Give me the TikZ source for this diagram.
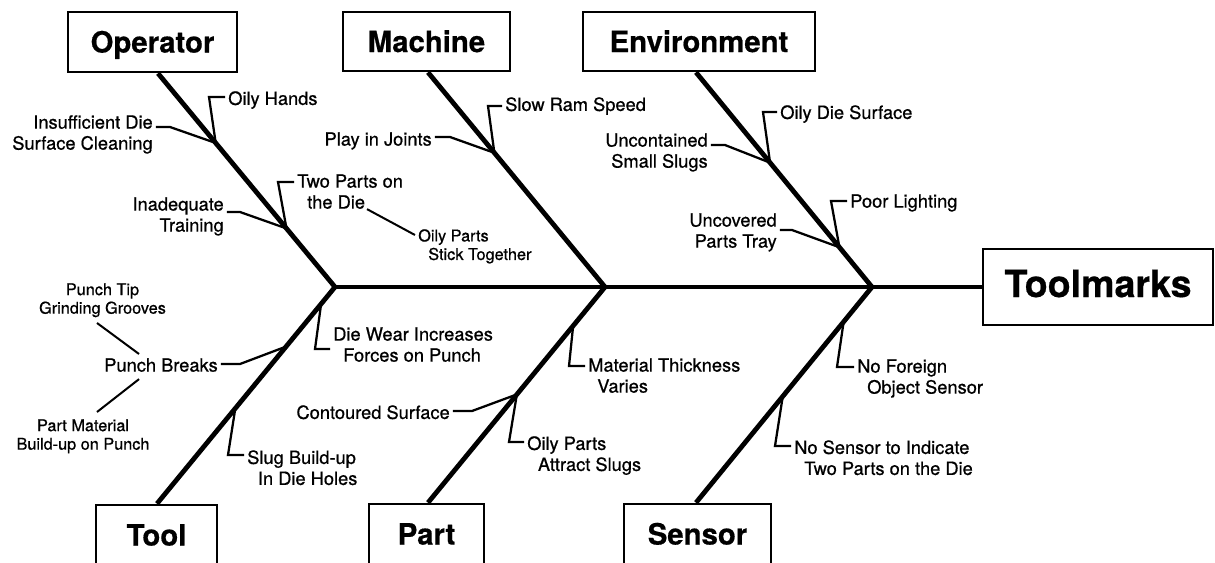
\documentclass[tikz,border=0pt]{standalone}
\usepackage{fontspec}
\setmainfont{TeX Gyre Heros}
\newfontfamily\causefont[FakeBold=0.7]{TeX Gyre Heros}
\newfontfamily\boxfont[FakeBold=0.5]{TeX Gyre Heros}
\usetikzlibrary{calc}
% twig from a point on a bone, via a bend, to the side of a cause label
\newcommand\twigto[5]{\draw[twig] (#1) -- (#2,#3) -- (#4.#5 |- #2,#3);}
\begin{document}
\begin{tikzpicture}[x=0.75pt,y=-0.75pt,
  catbox/.style={draw,line width=2pt,inner sep=0pt,
    font=\boxfont\fontsize{22}{26}\selectfont\bfseries,text height=15.8pt,text depth=0pt},
  bone/.style={line width=3.6pt,line join=miter},
  twig/.style={line width=1.7pt,shorten >=2.2pt},
  link/.style={line width=1.5pt},
  cause/.style={inner sep=0pt,font=\causefont\fontsize{13.7}{15.75}\selectfont},
  subcause/.style={inner sep=0pt,font=\causefont\fontsize{12.2}{13.9}\selectfont,align=center},
]
\useasboundingbox (0,0) rectangle (1215,562);
\clip (0,0) rectangle (1215,562);

% category boxes and the effect box
\node[catbox,minimum width=126.75pt,minimum height=45pt] (op) at (152.5,42) {Operator};
\node[catbox,minimum width=125.25pt,minimum height=44.25pt] (ma) at (426.5,41.5) {Machine};
\node[catbox,minimum width=174pt,minimum height=44.25pt] (en) at (699,41.5) {Environment};
\node[catbox,minimum width=90.75pt,minimum height=45pt] (to) at (156.5,535) {Tool};
\node[catbox,minimum width=86.25pt,minimum height=45pt] (pa) at (426.5,534) {Part};
\node[catbox,minimum width=110.25pt,minimum height=45pt] (se) at (697.5,534) {Sensor};
\node[catbox,minimum width=172.5pt,minimum height=57pt,
  font=\boxfont\fontsize{28.2}{32}\selectfont\bfseries,text height=20.3pt,text depth=5.25pt] (tm) at (1098,287) {Toolmarks};

% spine junctions and bone feet
\coordinate (J1) at (335,287);
\coordinate (J2) at (605,287);
\coordinate (J3) at (872,287);
\coordinate (opfoot) at ($(op.south)+(5.5,0)$);
\coordinate (mafoot) at ($(ma.south)+(1.5,0)$);
\coordinate (enfoot) at ($(en.south)+(-3,0)$);
\coordinate (tofoot) at ($(to.north)+(0.5,0)$);
\coordinate (pafoot) at ($(pa.north)+(1.5,0)$);
\coordinate (sefoot) at ($(se.north)+(-1.5,0)$);

% spine and bones
\draw[bone] (J1) -- (tm.west);
\draw[bone] (opfoot) -- (J1) -- (tofoot);
\draw[bone] (mafoot) -- (J2) -- (pafoot);
\draw[bone] (enfoot) -- (J3) -- (sefoot);

% points on the bones where the twigs start
\coordinate (o1) at ($(J1)!0.674!(opfoot)$);
\coordinate (o2) at ($(J1)!0.274!(opfoot)$);
\coordinate (m1) at ($(J2)!0.625!(mafoot)$);
\coordinate (e1) at ($(J3)!0.579!(enfoot)$);
\coordinate (e2) at ($(J3)!0.185!(enfoot)$);
\coordinate (t1) at ($(J1)!0.078!(tofoot)$);
\coordinate (t2) at ($(J1)!0.275!(tofoot)$);
\coordinate (t3) at ($(J1)!0.560!(tofoot)$);
\coordinate (p1) at ($(J2)!0.180!(pafoot)$);
\coordinate (p2) at ($(J2)!0.498!(pafoot)$);
\coordinate (s1) at ($(J3)!0.161!(sefoot)$);
\coordinate (s2) at ($(J3)!0.507!(sefoot)$);

% Operator
\node[cause,anchor=north west] (oilyhands) at (228,91) {Oily Hands};
\node[cause,anchor=north east,align=right] (insuff) at (153,115) {Insufficient Die\\Surface Cleaning};
\node[cause,anchor=north west,align=left] (twoparts) at (297,174) {Two Parts on\\\hspace*{7.5pt}the Die};
\node[cause,anchor=north east,align=right] (inadeq) at (224,197) {Inadequate\\Training};
\node[subcause,anchor=north west,align=left] (oilystick) at (418,229) {Oily Parts\\\hspace*{7.5pt}Stick Together};
\twigto{o1}{209}{97}{oilyhands}{west}
\twigto{o1}{170}{127}{insuff}{east}
\twigto{o2}{278}{182}{twoparts}{west}
\twigto{o2}{240}{212}{inadeq}{east}
\draw[link] ($(twoparts.south west)+(70,0)$) -- ($(oilystick.north west)+(-3,6)$);

% Machine
\node[cause,anchor=north west] (slowram) at (505,97) {Slow Ram Speed};
\node[cause,anchor=north east] (play) at (432,132) {Play in Joints};
\twigto{m1}{488}{106}{slowram}{west}
\twigto{m1}{450}{137}{play}{east}

% Environment
\node[cause,anchor=north west] (oilydie) at (780,105) {Oily Die Surface};
\node[cause,anchor=north east,align=right] (uncont) at (708,133) {Uncontained\\Small Slugs};
\node[cause,anchor=north west] (poorlight) at (850,194) {Poor Lighting};
\node[cause,anchor=north east,align=right] (uncov) at (777,213) {Uncovered\\Parts Tray};
\twigto{e1}{763}{112}{oilydie}{west}
\twigto{e1}{725}{145}{uncont}{east}
\twigto{e2}{831}{201}{poorlight}{west}
\twigto{e2}{792}{230}{uncov}{east}

% Tool
\node[cause,anchor=north west,align=left] (diewear) at (333,327) {Die Wear Increases\\\hspace*{7.5pt}Forces on Punch};
\node[cause,anchor=north east] (pbreaks) at (218,358) {Punch Breaks};
\node[subcause,anchor=north] (punchtip) at (102.5,283) {Punch Tip\\Grinding Grooves};
\node[subcause,anchor=north] (partmat) at (83,419) {Part Material\\Build-up on Punch};
\node[cause,anchor=north west,align=left] (slug) at (247,450) {Slug Build-up\\\hspace*{8pt}In Die Holes};
\twigto{t1}{315}{349}{diewear}{west}
\twigto{t2}{240}{364}{pbreaks}{east}
\twigto{t3}{228}{455}{slug}{west}
\draw[link] ($(punchtip.south)+(-5.5,5.5)$) -- ($(pbreaks.north west)+(35,-4)$);
\draw[link] ($(pbreaks.south west)+(35,7)$) -- ($(partmat.north)+(14,-7)$);

% Part
\node[cause,anchor=north west,align=left] (matthick) at (588,358) {Material Thickness\\\hspace*{6.8pt}Varies};
\node[cause,anchor=north east] (contour) at (450,405) {Contoured Surface};
\node[cause,anchor=north west,align=left] (oilyattract) at (527,436) {Oily Parts\\\hspace*{8pt}Attract Slugs};
\twigto{p1}{569}{366}{matthick}{west}
\twigto{p2}{472}{411}{contour}{east}
\twigto{p2}{509}{442}{oilyattract}{west}

% Sensor
\node[cause,anchor=north west,align=left] (noforeign) at (857,359) {No Foreign\\\hspace*{7.5pt}Object Sensor};
\node[cause,anchor=north west,align=left] (nosensor) at (794,440) {No Sensor to Indicate\\\hspace*{7.5pt}Two Parts on the Die};
\twigto{s1}{837}{367}{noforeign}{west}
\twigto{s2}{775}{446}{nosensor}{west}
\end{tikzpicture}
\end{document}
